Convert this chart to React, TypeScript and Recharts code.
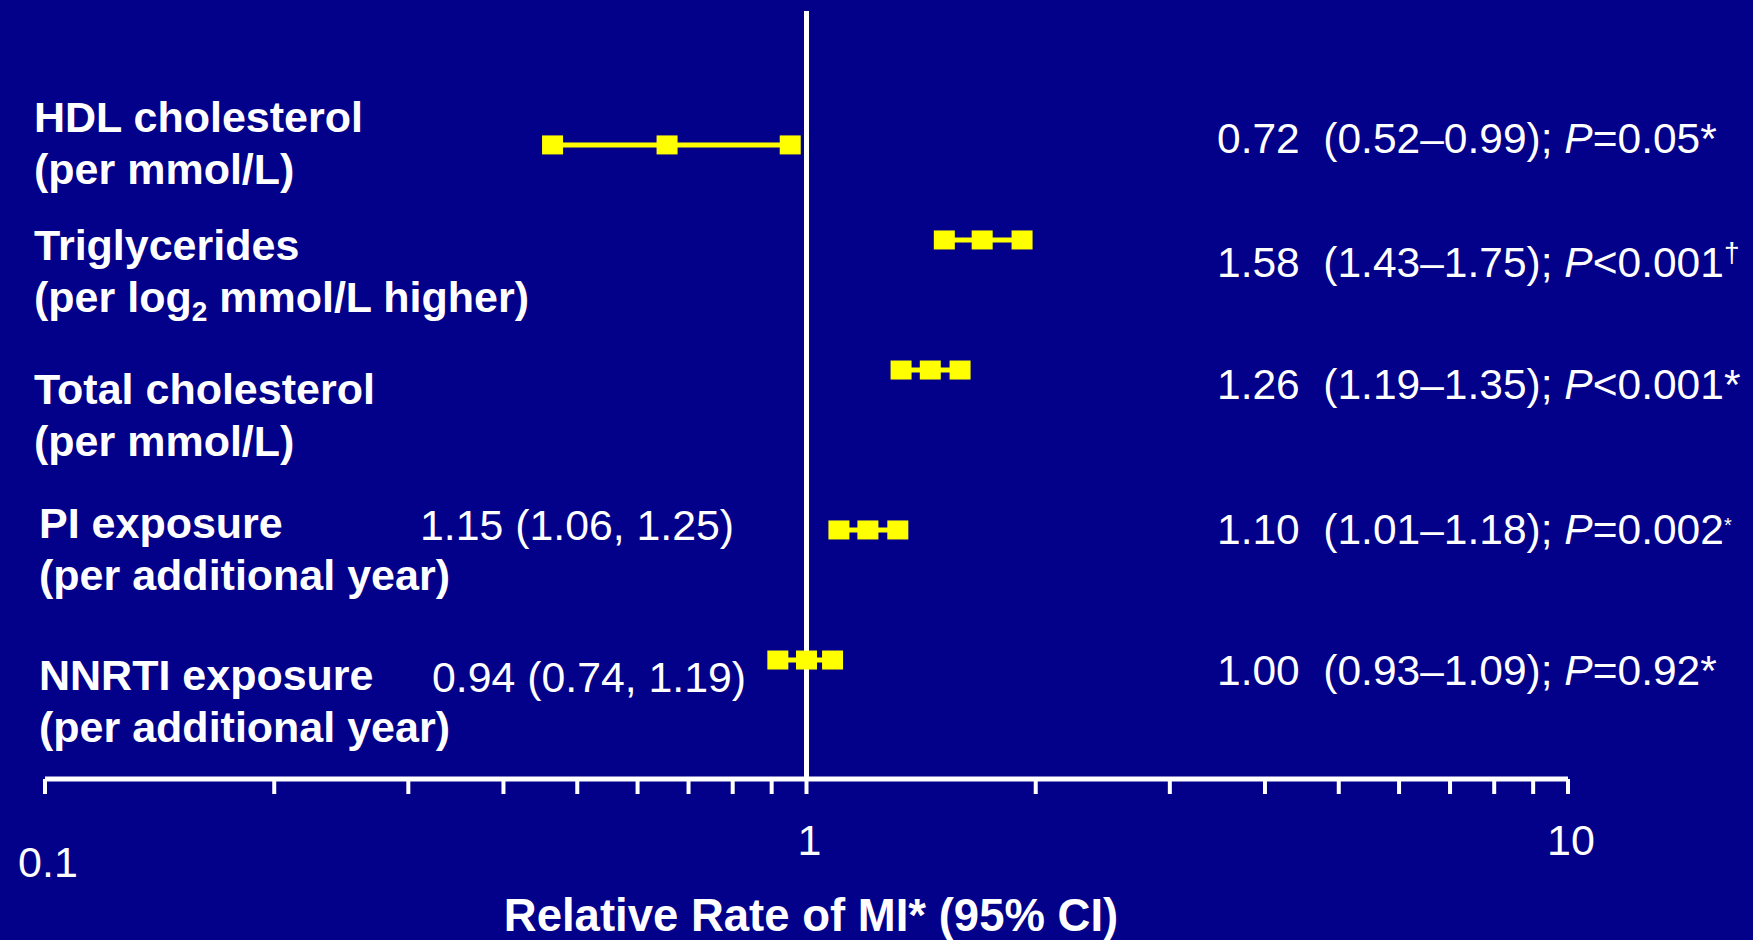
import { ComposedChart, ReferenceLine, Scatter, XAxis, YAxis } from "recharts";

const NAVY = "#03008a";
const YELLOW = "#ffff00";
const FONT = '"Liberation Sans", Arial, Helvetica, sans-serif';

// risk factors, top to bottom
const factors = [
  "HDL cholesterol",
  "Triglycerides",
  "Total cholesterol",
  "PI exposure",
  "NNRTI exposure",
];
const units = [
  "(per mmol/L)",
  "(per log2 mmol/L higher)",
  "(per mmol/L)",
  "(per additional year)",
  "(per additional year)",
];

// marker positions as drawn on the log axis
const lowerCI = [0.464, 1.517, 1.331, 1.103, 0.917];
const estimate = [0.656, 1.701, 1.454, 1.204, 1.0];
const upperCI = [0.952, 1.919, 1.591, 1.318, 1.082];

// printed results
const rateLabels = ["0.72", "1.58", "1.26", "1.10", "1.00"];
const ciLabels = ["(0.52–0.99)", "(1.43–1.75)", "(1.19–1.35)", "(1.01–1.18)", "(0.93–1.09)"];
const pLabels = ["=0.05", "<0.001", "<0.001", "=0.002", "=0.92"];
const pNotes = ["*", "†", "*", "*", "*"];
const univariateLabels = ["", "", "", "1.15 (1.06, 1.25)", "0.94 (0.74, 1.19)"];

const xTicks = [0.1, 0.2, 0.3, 0.4, 0.5, 0.6, 0.7, 0.8, 0.9, 1, 2, 3, 4, 5, 6, 7, 8, 9, 10];
const xTickLabels = ["0.1", "1", "10"];

// layout: rows are not evenly spaced in the slide
const rowSlot = [0, 0.738, 1.748, 2.99, 4];
const labelBaseline = [131.5, 259.5, 404, 537.5, 690];
const labelX = [34, 34, 34, 39, 39];
const noteBaseline = [153, 277, 399, 543.5, 685];

const rows = factors.map((name, i) => ({
  name,
  points: [
    { x: lowerCI[i], y: rowSlot[i] },
    { x: estimate[i], y: rowSlot[i] },
    { x: upperCI[i], y: rowSlot[i] },
  ],
}));

function Square(props: any) {
  const { cx, cy } = props;
  return <rect x={cx - 10.5} y={cy - 9.5} width={21} height={19} fill={YELLOW} />;
}

function AxisTick(props: any) {
  const { x, y, payload } = props;
  const v = payload.value;
  const label = xTickLabels.find((t) => Number(t) === v);
  if (!label) return <g />;
  return (
    <text
      x={x + 3}
      y={y + (v === 0.1 ? 81 : 59)}
      textAnchor="middle"
      fill="#fff"
      fontSize={43}
      fontFamily={FONT}
    >
      {label}
    </text>
  );
}

function UnitLabel({ text, x, y }: { text: string; x: number; y: number }) {
  const parts = text.split("log2");
  return (
    <text x={x} y={y} fill="#fff" fontSize={43} fontWeight="bold" fontFamily={FONT} style={{ whiteSpace: "pre" }}>
      {parts.length === 1 ? (
        text
      ) : (
        <>
          <tspan>{parts[0]}log</tspan>
          <tspan fontSize={28} dy={9}>2</tspan>
          <tspan dy={-9}>{parts[1]}</tspan>
        </>
      )}
    </text>
  );
}

export default function App() {
  return (
    <div style={{ position: "relative", width: 1753, height: 940, background: NAVY }}>
      <style>{`body{margin:0;background:${NAVY}}`}</style>
      <ComposedChart width={1753} height={940} margin={{ top: 11, right: 185, bottom: 0, left: 45 }}>
        <XAxis
          type="number"
          dataKey="x"
          scale="log"
          domain={[0.1, 10]}
          allowDataOverflow
          ticks={xTicks}
          interval={0}
          height={161}
          tickSize={15}
          axisLine={{ stroke: "#fff", strokeWidth: 5 }}
          tickLine={{ stroke: "#fff", strokeWidth: 4 }}
          tick={<AxisTick />}
        />
        <YAxis hide type="number" dataKey="y" domain={[-1.04, 4.924]} reversed allowDataOverflow />
        {rows.map((row) => (
          <Scatter
            key={row.name}
            name={row.name}
            data={row.points}
            fill={YELLOW}
            line={{ stroke: YELLOW, strokeWidth: 5 }}
            shape={<Square />}
            isAnimationActive={false}
          />
        ))}
        <ReferenceLine x={1} stroke="#fff" strokeWidth={5} ifOverflow="extendDomain" />
      </ComposedChart>

      <svg
        width={1753}
        height={940}
        style={{ position: "absolute", left: 0, top: 0, pointerEvents: "none" }}
      >
        {factors.map((name, i) => (
          <g key={name}>
            <text
              x={labelX[i]}
              y={labelBaseline[i]}
              fill="#fff"
              fontSize={43}
              fontWeight="bold"
              fontFamily={FONT}
            >
              {name}
            </text>
            <UnitLabel text={units[i]} x={labelX[i]} y={labelBaseline[i] + 52} />
            {univariateLabels[i] && (
              <text
                x={i === 3 ? 420 : 432}
                y={labelBaseline[i] + 2}
                fill="#fff"
                fontSize={42.8}
                fontFamily={FONT}
              >
                {univariateLabels[i]}
              </text>
            )}
            <text
              x={1217}
              y={noteBaseline[i]}
              fill="#fff"
              fontSize={42.5}
              fontFamily={FONT}
              style={{ whiteSpace: "pre" }}
            >
              <tspan>{`${rateLabels[i]}  ${ciLabels[i]}; `}</tspan>
              <tspan fontStyle="italic">P</tspan>
              <tspan>{pLabels[i]}</tspan>
              {pNotes[i] === "†" ? (
                <tspan fontSize={28} dy={-15}>{pNotes[i]}</tspan>
              ) : i === 3 ? (
                <tspan fontSize={20} dy={-12}>{pNotes[i]}</tspan>
              ) : (
                <tspan>{pNotes[i]}</tspan>
              )}
            </text>
          </g>
        ))}
        <text
          x={811}
          y={931}
          textAnchor="middle"
          fill="#fff"
          fontSize={45.5}
          fontWeight="bold"
          fontFamily={FONT}
        >
          Relative Rate of MI* (95% CI)
        </text>
      </svg>
    </div>
  );
}
